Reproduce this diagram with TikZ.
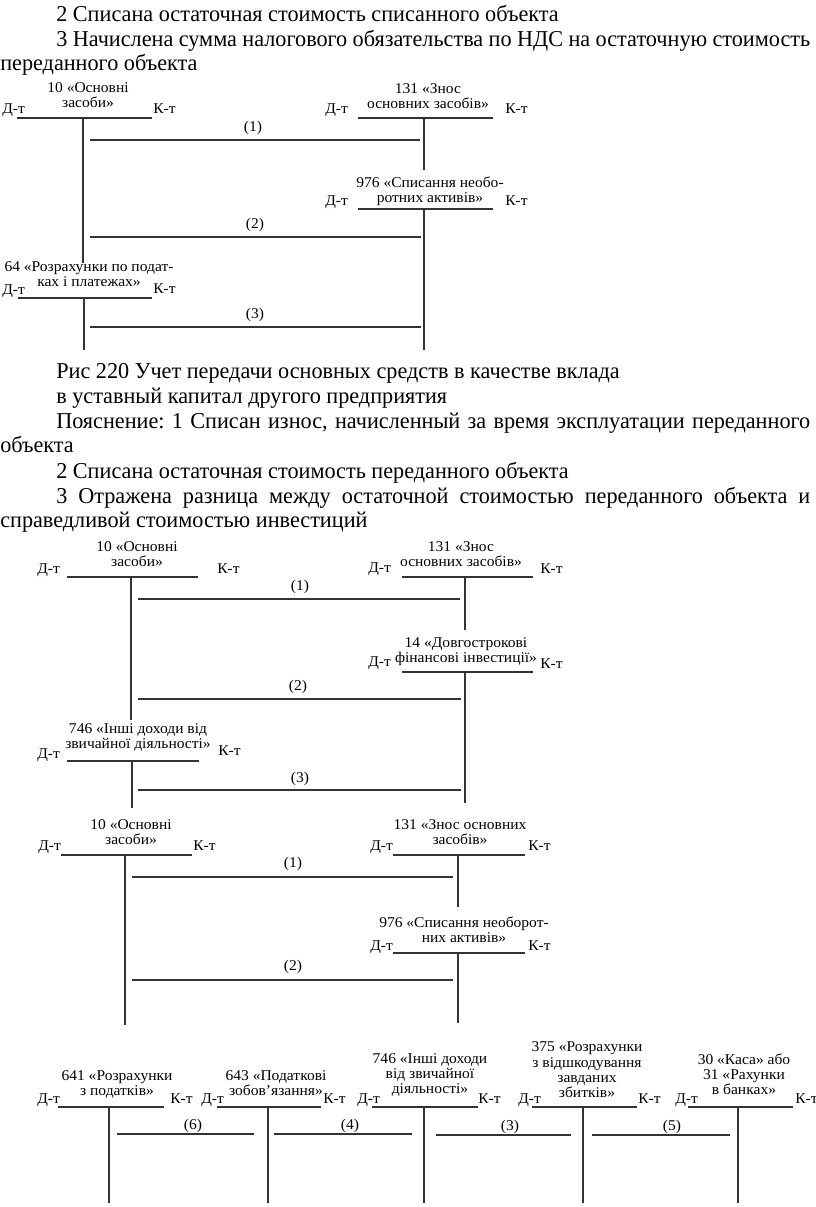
\documentclass[tikz,border=0pt]{standalone}
\usepackage{fontspec}
\setmainfont{Liberation Serif}
\newfontfamily\bodyf{Liberation Serif}[FakeStretch=0.98]
\newfontfamily\diaf{Liberation Serif}[FakeStretch=1.04]
\frenchspacing
\tikzset{
  ln/.style={line width=0.85pt, draw=black!80},
  body/.style={font=\bodyf\fontsize{17}{20}\selectfont, anchor=base west, inner sep=0pt},
  ttl/.style={font=\diaf\fontsize{11.2}{11.5}\selectfont, align=center, anchor=south, text depth=0pt, inner sep=0pt},
  dk/.style={font=\diaf\fontsize{11.2}{11.5}\selectfont, anchor=base west, inner sep=0pt},
  pl/.style={font=\diaf\fontsize{11.2}{11.5}\selectfont, anchor=base, inner sep=0pt},
}
\newcommand\jline[2]{\makebox[#1][s]{#2}}
\begin{document}
\begin{tikzpicture}[x=0.75pt,y=-0.75pt]
\useasboundingbox (0,0) rectangle (816,1207);
% ---------- top text ----------
\node[body] (t1) at (56,21) {2 Списана остаточная стоимость списанного объекта};
\node[body] (t2) at (56,46) {\jline{565.5pt}{3 Начислена сумма налогового обязательства по НДС на остаточную стоимость}};
\node[body] (t3) at (0,70) {переданного объекта};
% ---------- diagram 1 ----------
\node[ttl] (a1t) at (88,108) {10 «Основні\\засоби»};
\node[dk] (a1d) at (2,113) {Д-т};
\node[dk] (a1k) at (153,113) {К-т};
\coordinate (a1l) at (17,118); \coordinate (a1r) at (152,118);
\coordinate (a1v) at (83,118); \coordinate (a1e) at (83,263);
\draw[ln] (a1l) -- (a1r); \draw[ln] (a1v) -- (a1e);

\node[ttl] (a2t) at (428,109) {131 «Знос\\основних засобів»};
\node[dk] (a2d) at (325,113) {Д-т};
\node[dk] (a2k) at (505,113) {К-т};
\coordinate (a2l) at (358,118); \coordinate (a2r) at (493,118);
\coordinate (a2v) at (424,118); \coordinate (a2e) at (424,170);
\draw[ln] (a2l) -- (a2r); \draw[ln] (a2v) -- (a2e);

\node[ttl] (a3t) at (430,203) {976 «Списання необо-\\ротних активів»};
\node[dk] (a3d) at (325,205) {Д-т};
\node[dk] (a3k) at (505,205) {К-т};
\coordinate (a3l) at (358,209); \coordinate (a3r) at (493,209);
\coordinate (a3v) at (424,209); \coordinate (a3e) at (424,350);
\draw[ln] (a3l) -- (a3r); \draw[ln] (a3v) -- (a3e);

\node[ttl] (a4t) at (89,287) {64 «Розрахунки по подат-\\ках і платежах»};
\node[dk] (a4d) at (2,294) {Д-т};
\node[dk] (a4k) at (153,293) {К-т};
\coordinate (a4l) at (18,298); \coordinate (a4r) at (152,298);
\coordinate (a4v) at (84,298); \coordinate (a4e) at (84,350);
\draw[ln] (a4l) -- (a4r); \draw[ln] (a4v) -- (a4e);

\coordinate (p11a) at (90,140); \coordinate (p11b) at (420,140);
\draw[ln] (p11a) -- (p11b); \node[pl] (p11n) at (253,131) {(1)};
\coordinate (p12a) at (90,237); \coordinate (p12b) at (421,237);
\draw[ln] (p12a) -- (p12b); \node[pl] (p12n) at (255,228) {(2)};
\coordinate (p13a) at (90,327); \coordinate (p13b) at (421,327);
\draw[ln] (p13a) -- (p13b); \node[pl] (p13n) at (255,318) {(3)};
% ---------- middle text ----------
\node[body] (m1) at (56,378) {Рис 220 Учет передачи основных средств в качестве вклада};
\node[body] (m2) at (56,403) {в уставный капитал другого предприятия};
\node[body] (m3) at (56,428) {\jline{565.5pt}{Пояснение: 1 Списан износ, начисленный за время эксплуатации переданного}};
\node[body] (m4) at (0,452) {объекта};
\node[body] (m5) at (56,478) {2 Списана остаточная стоимость переданного объекта};
\node[body] (m6) at (56,503) {\jline{565.5pt}{3 Отражена разница между остаточной стоимостью переданного объекта и}};
\node[body] (m7) at (0,527) {справедливой стоимостью инвестиций};
% ---------- diagram 2 ----------
\node[ttl] (b1t) at (137,567) {10 «Основні\\засоби»};
\node[dk] (b1d) at (37,573) {Д-т};
\node[dk] (b1k) at (217,573) {К-т};
\coordinate (b1l) at (67,577); \coordinate (b1r) at (198,577);
\coordinate (b1v) at (131,577); \coordinate (b1e) at (131,720);
\draw[ln] (b1l) -- (b1r); \draw[ln] (b1v) -- (b1e);

\node[ttl] (b2t) at (461,567) {131 «Знос\\основних засобів»};
\node[dk] (b2d) at (368,572) {Д-т};
\node[dk] (b2k) at (540,573) {К-т};
\coordinate (b2l) at (402,577); \coordinate (b2r) at (533,577);
\coordinate (b2v) at (465,577); \coordinate (b2e) at (465,630);
\draw[ln] (b2l) -- (b2r); \draw[ln] (b2v) -- (b2e);

\node[ttl] (b3t) at (466,663) {14 «Довгострокові\\фінансові інвестиції»};
\node[dk] (b3d) at (368,666) {Д-т};
\node[dk] (b3k) at (540,668) {К-т};
\coordinate (b3l) at (402,672); \coordinate (b3r) at (533,672);
\coordinate (b3v) at (465,672); \coordinate (b3e) at (465,803);
\draw[ln] (b3l) -- (b3r); \draw[ln] (b3v) -- (b3e);

\node[ttl] (b4t) at (138,749) {746 «Інші доходи від\\звичайної діяльності»};
\node[dk] (b4d) at (37,758) {Д-т};
\node[dk] (b4k) at (218,755) {К-т};
\coordinate (b4l) at (67,761); \coordinate (b4r) at (199,761);
\coordinate (b4v) at (132,761); \coordinate (b4e) at (132,808);
\draw[ln] (b4l) -- (b4r); \draw[ln] (b4v) -- (b4e);

\coordinate (p21a) at (138,599); \coordinate (p21b) at (460,599);
\draw[ln] (p21a) -- (p21b); \node[pl] (p21n) at (300,590) {(1)};
\coordinate (p22a) at (138,699); \coordinate (p22b) at (461,699);
\draw[ln] (p22a) -- (p22b); \node[pl] (p22n) at (298,690) {(2)};
\coordinate (p23a) at (138,790); \coordinate (p23b) at (461,790);
\draw[ln] (p23a) -- (p23b); \node[pl] (p23n) at (300,782) {(3)};
% ---------- diagram 3 ----------
\node[ttl] (c1t) at (131,845) {10 «Основні\\засоби»};
\node[dk] (c1d) at (38,850) {Д-т};
\node[dk] (c1k) at (193,850) {К-т};
\coordinate (c1l) at (61,855); \coordinate (c1r) at (192,855);
\coordinate (c1v) at (125,855); \coordinate (c1e) at (125,1025);
\draw[ln] (c1l) -- (c1r); \draw[ln] (c1v) -- (c1e);

\node[ttl] (c2t) at (460,845) {131 «Знос основних\\засобів»};
\node[dk] (c2d) at (370,850) {Д-т};
\node[dk] (c2k) at (528,850) {К-т};
\coordinate (c2l) at (393,855); \coordinate (c2r) at (525,855);
\coordinate (c2v) at (458,855); \coordinate (c2e) at (458,907);
\draw[ln] (c2l) -- (c2r); \draw[ln] (c2v) -- (c2e);

\node[ttl] (c3t) at (464,943) {976 «Списання необорот-\\них активів»};
\node[dk] (c3d) at (370,950) {Д-т};
\node[dk] (c3k) at (528,950) {К-т};
\coordinate (c3l) at (393,953); \coordinate (c3r) at (525,953);
\coordinate (c3v) at (458,953); \coordinate (c3e) at (458,1023);
\draw[ln] (c3l) -- (c3r); \draw[ln] (c3v) -- (c3e);

\coordinate (p31a) at (132,877); \coordinate (p31b) at (453,877);
\draw[ln] (p31a) -- (p31b); \node[pl] (p31n) at (293,867) {(1)};
\coordinate (p32a) at (132,980); \coordinate (p32b) at (453,980);
\draw[ln] (p32a) -- (p32b); \node[pl] (p32n) at (293,970) {(2)};
% ---------- diagram 4 ----------
\node[ttl] (d1t) at (117,1096) {641 «Розрахунки\\з податків»};
\node[dk] (d1d) at (37,1103) {Д-т};
\node[dk] (d1k) at (170,1103) {К-т};
\coordinate (d1l) at (58,1107); \coordinate (d1r) at (164,1107);
\coordinate (d1v) at (109,1107); \coordinate (d1e) at (109,1203);
\draw[ln] (d1l) -- (d1r); \draw[ln] (d1v) -- (d1e);

\node[ttl] (d2t) at (276,1096) {643 «Податкові\\зобов’язання»};
\node[dk] (d2d) at (201,1103) {Д-т};
\node[dk] (d2k) at (323,1103) {К-т};
\coordinate (d2l) at (217,1107); \coordinate (d2r) at (321,1107);
\coordinate (d2v) at (268,1107); \coordinate (d2e) at (268,1203);
\draw[ln] (d2l) -- (d2r); \draw[ln] (d2v) -- (d2e);

\node[ttl] (d3t) at (430,1094) {746 «Інші доходи\\від звичайної\\діяльності»};
\node[dk] (d3d) at (357,1103) {Д-т};
\node[dk] (d3k) at (478,1103) {К-т};
\coordinate (d3l) at (372,1107); \coordinate (d3r) at (478,1107);
\coordinate (d3v) at (424,1107); \coordinate (d3e) at (424,1203);
\draw[ln] (d3l) -- (d3r); \draw[ln] (d3v) -- (d3e);

\node[ttl] (d4t) at (587,1098) {375 «Розрахунки\\з відшкодування\\завданих\\збитків»};
\node[dk] (d4d) at (518,1103) {Д-т};
\node[dk] (d4k) at (638,1103) {К-т};
\coordinate (d4l) at (532,1107); \coordinate (d4r) at (637,1107);
\coordinate (d4v) at (583,1107); \coordinate (d4e) at (583,1203);
\draw[ln] (d4l) -- (d4r); \draw[ln] (d4v) -- (d4e);

\node[ttl] (d5t) at (744,1095) {30 «Каса» або\\31 «Рахунки\\в банках»};
\node[dk] (d5d) at (675,1103) {Д-т};
\node[dk] (d5k) at (795,1103) {К-т};
\coordinate (d5l) at (688,1107); \coordinate (d5r) at (793,1107);
\coordinate (d5v) at (738,1107); \coordinate (d5e) at (738,1203);
\draw[ln] (d5l) -- (d5r); \draw[ln] (d5v) -- (d5e);

\coordinate (p46a) at (117,1134); \coordinate (p46b) at (254,1134);
\draw[ln] (p46a) -- (p46b); \node[pl] (p46n) at (193,1129) {(6)};
\coordinate (p44a) at (274,1134); \coordinate (p44b) at (412,1134);
\draw[ln] (p44a) -- (p44b); \node[pl] (p44n) at (350,1129) {(4)};
\coordinate (p43a) at (436,1135); \coordinate (p43b) at (571,1135);
\draw[ln] (p43a) -- (p43b); \node[pl] (p43n) at (510,1130) {(3)};
\coordinate (p45a) at (592,1135); \coordinate (p45b) at (730,1135);
\draw[ln] (p45a) -- (p45b); \node[pl] (p45n) at (672,1130) {(5)};
\end{tikzpicture}
\end{document}
